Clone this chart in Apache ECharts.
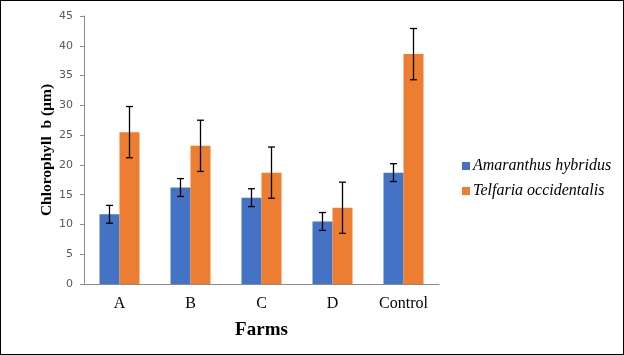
<!DOCTYPE html>
<html><head><meta charset="utf-8">
<script src="https://cdn.jsdelivr.net/npm/echarts@6/dist/echarts.min.js"></script>
<style>html,body{margin:0;padding:0;background:#fff}#c{width:624px;height:355px;box-sizing:border-box;border:1px solid #000}</style>
</head><body><div id="c"></div>
<script>
var categories = ['A', 'B', 'C', 'D', 'Control'];
var seriesNames = ['Amaranthus hybridus', 'Telfaria occidentalis'];
var amaranthus = [11.7, 16.2, 14.5, 10.5, 18.7];
var amaranthusErr = [1.5, 1.5, 1.5, 1.5, 1.5];
var telfaria = [25.5, 23.2, 18.7, 12.8, 38.6];
var telfariaErr = [4.3, 4.3, 4.3, 4.3, 4.3];
var yTicks = {min: 0, max: 45, interval: 5};

var chart = echarts.init(document.getElementById('c'));
function errSeries(vals, errs, offset) {
  return {
    type: 'custom',
    z: 10,
    data: vals.map(function (v, i) { return [i, v - errs[i], v + errs[i]]; }),
    renderItem: function (params, api) {
      var lo = api.coord([api.value(0), api.value(1)]);
      var hi = api.coord([api.value(0), api.value(2)]);
      var x = lo[0] + offset;
      var cw = 3.5;
      var st = {stroke: '#000', lineWidth: 1.3};
      return {type: 'group', children: [
        {type: 'line', shape: {x1: x, y1: lo[1], x2: x, y2: hi[1]}, style: st},
        {type: 'line', shape: {x1: x - cw, y1: lo[1], x2: x + cw, y2: lo[1]}, style: st},
        {type: 'line', shape: {x1: x - cw, y1: hi[1], x2: x + cw, y2: hi[1]}, style: st}
      ]};
    }
  };
}
chart.setOption({
  animation: false,
  grid: {left: 83, right: 184, top: 15, bottom: 70},
  legend: {
    orient: 'vertical', left: 456, top: 152, itemWidth: 8, itemHeight: 8, itemGap: 9,
    icon: 'rect',
    data: seriesNames,
    textStyle: {fontFamily: 'Liberation Serif', fontStyle: 'italic', fontSize: 16, color: '#000', padding: [0, 0, 0, -2]}
  },
  xAxis: {
    type: 'category', data: categories,
    name: 'Farms', nameLocation: 'middle', nameGap: 37,
    nameTextStyle: {fontFamily: 'Liberation Serif', fontWeight: 'bold', fontSize: 19, color: '#000'},
    axisLine: {lineStyle: {color: '#8c8c8c'}},
    axisTick: {show: false},
    axisLabel: {fontFamily: 'Liberation Serif', fontSize: 16, color: '#000', margin: 12}
  },
  yAxis: {
    type: 'value', min: yTicks.min, max: yTicks.max, interval: yTicks.interval,
    name: 'Chlorophyll  b (µm)', nameLocation: 'middle', nameGap: 29, nameMoveOverlap: false,
    nameTextStyle: {fontFamily: 'Liberation Serif', fontWeight: 'bold', fontSize: 15.5, color: '#000'},
    axisLine: {show: true, lineStyle: {color: '#8c8c8c'}},
    axisTick: {show: true, length: 4, lineStyle: {color: '#8c8c8c'}},
    splitLine: {show: false},
    axisLabel: {fontFamily: 'DejaVu Sans', fontSize: 11, color: '#595959', margin: 11}
  },
  series: [
    {name: seriesNames[0], type: 'bar', data: amaranthus, barWidth: 20, barGap: '0%', itemStyle: {color: '#4472c4'}},
    {name: seriesNames[1], type: 'bar', data: telfaria, barWidth: 20, barGap: '0%', itemStyle: {color: '#ed7d31'}},
    errSeries(amaranthus, amaranthusErr, -10),
    errSeries(telfaria, telfariaErr, 10)
  ]
});
</script></body></html>
